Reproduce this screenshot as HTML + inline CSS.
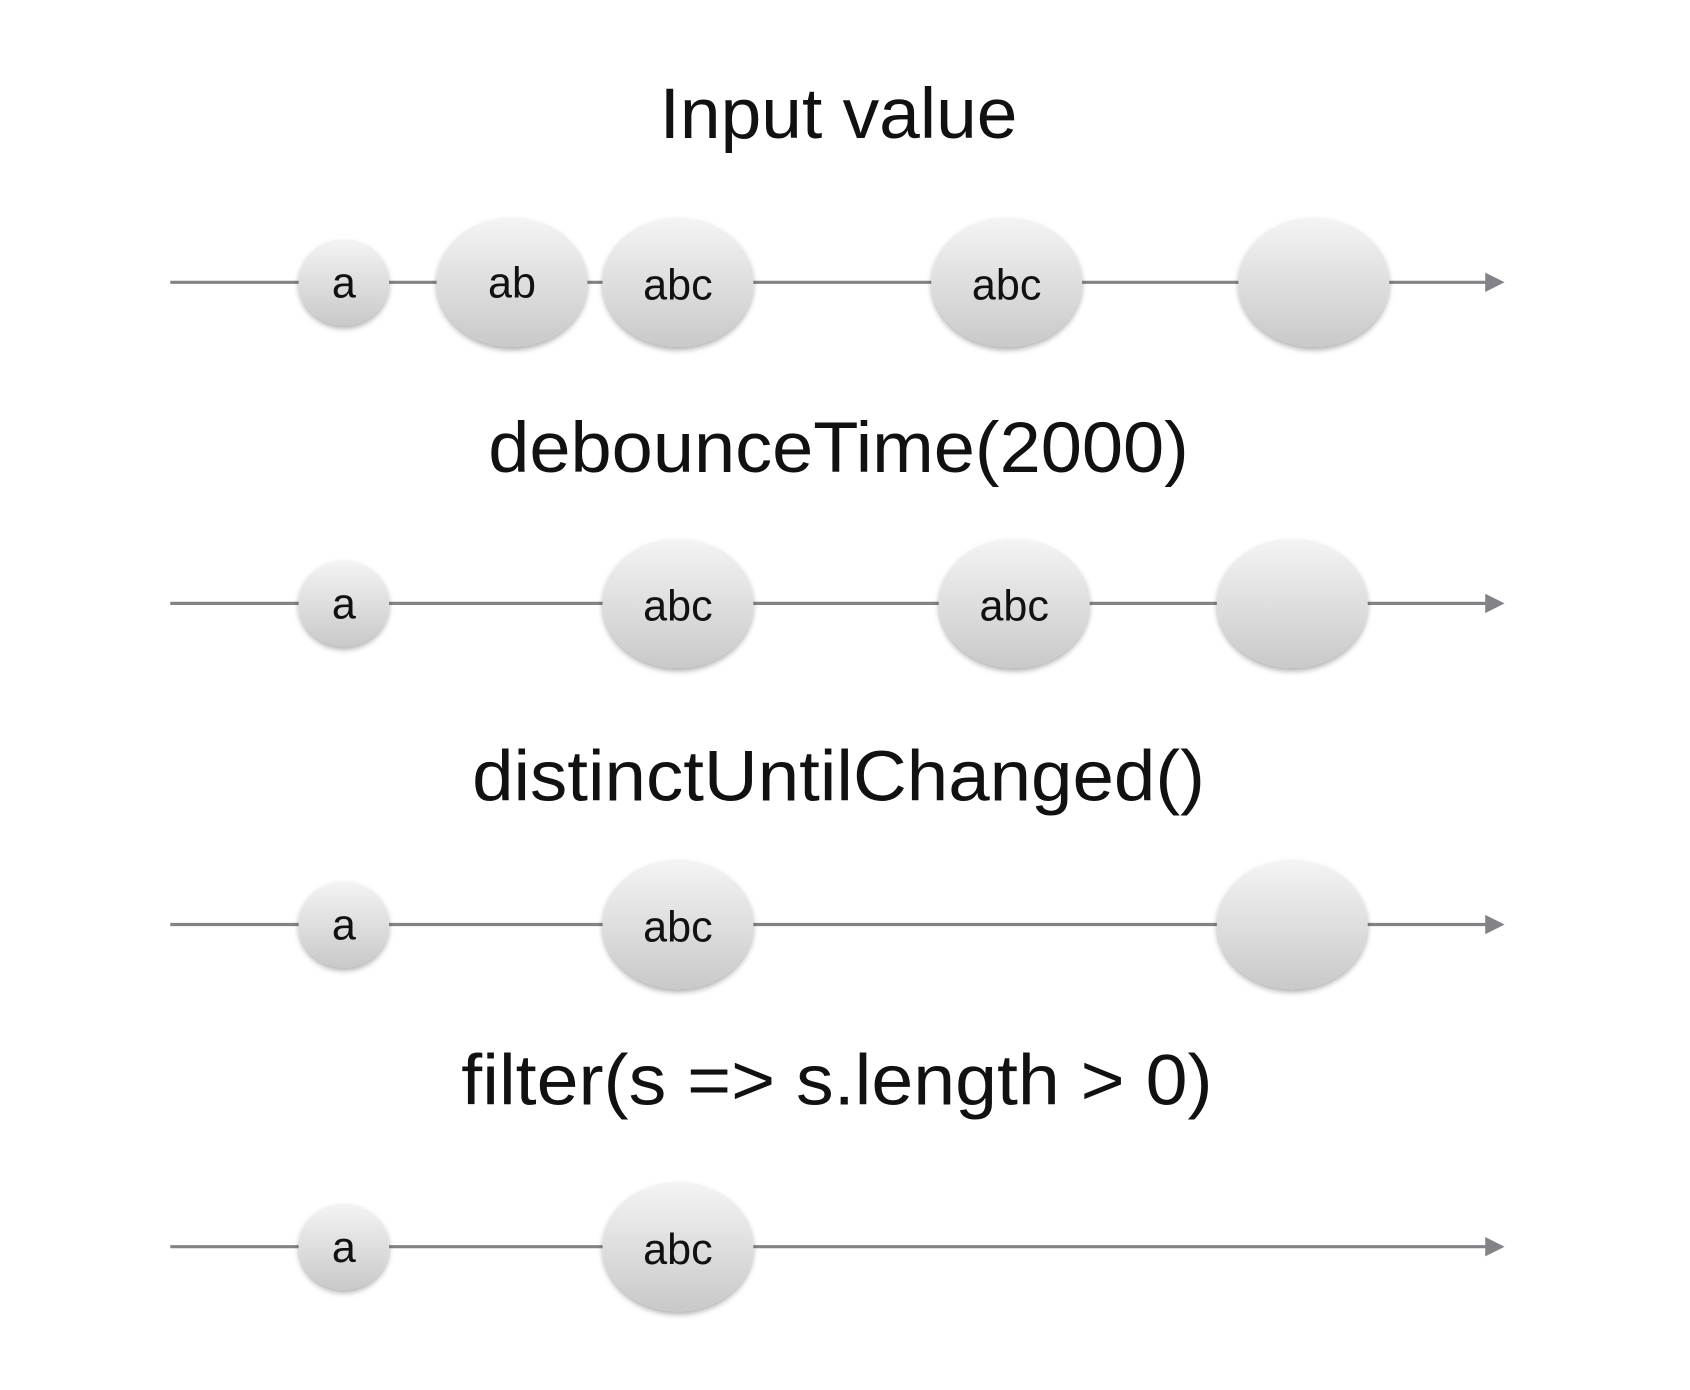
<!DOCTYPE html>
<html><head><meta charset="utf-8"><style>
html,body{margin:0;padding:0;background:#fff;}
svg{display:block;}
text{font-family:"Liberation Sans",sans-serif;fill:#111;}
</style></head><body>
<svg width="1690" height="1390" viewBox="0 0 1568 1290" preserveAspectRatio="none" xmlns="http://www.w3.org/2000/svg">
<defs>
<linearGradient id="g" x1="0" y1="0" x2="0" y2="1">
<stop offset="0" stop-color="#f4f4f4"/>
<stop offset="1" stop-color="#c9c9c9"/>
</linearGradient>
<filter id="s" x="-20%" y="-20%" width="140%" height="150%">
<feDropShadow dx="0" dy="3" stdDeviation="2.5" flood-color="#000" flood-opacity="0.3"/>
</filter>
</defs>
<g font-weight="normal" font-size="66" text-anchor="start" style="fill:#1a1a1a">
<text x="612" y="128" textLength="332" lengthAdjust="spacingAndGlyphs">Input value</text>
<text x="453" y="438" textLength="650" lengthAdjust="spacingAndGlyphs">debounceTime(2000)</text>
<text x="438" y="743" textLength="680" lengthAdjust="spacingAndGlyphs">distinctUntilChanged()</text>
<text x="428" y="1025" textLength="697" lengthAdjust="spacingAndGlyphs">filter(s =&gt; s.length &gt; 0)</text>
</g>
<g stroke="#828388" stroke-width="3">
<line x1="158" y1="262" x2="1382" y2="262"/>
<line x1="158" y1="560" x2="1382" y2="560"/>
<line x1="158" y1="858" x2="1382" y2="858"/>
<line x1="158" y1="1157" x2="1382" y2="1157"/>
</g>
<g fill="#828388">
<polygon points="1378,253 1396,262 1378,271"/>
<polygon points="1378,551 1396,560 1378,569"/>
<polygon points="1378,849 1396,858 1378,867"/>
<polygon points="1378,1148 1396,1157 1378,1166"/>
</g>
<g fill="url(#g)" filter="url(#s)">
<ellipse cx="319" cy="262" rx="42" ry="40"/>
<ellipse cx="475" cy="262" rx="70" ry="60"/>
<ellipse cx="629" cy="262" rx="70" ry="60"/>
<ellipse cx="934" cy="262" rx="70" ry="60"/>
<ellipse cx="1219" cy="262" rx="70" ry="60"/>
<ellipse cx="319" cy="560" rx="42" ry="40"/>
<ellipse cx="629" cy="560" rx="70" ry="60"/>
<ellipse cx="941" cy="560" rx="70" ry="60"/>
<ellipse cx="1199" cy="560" rx="70" ry="60"/>
<ellipse cx="319" cy="858" rx="42" ry="40"/>
<ellipse cx="629" cy="858" rx="70" ry="60"/>
<ellipse cx="1199" cy="858" rx="70" ry="60"/>
<ellipse cx="319" cy="1157" rx="42" ry="40"/>
<ellipse cx="629" cy="1157" rx="70" ry="60"/>
</g>
<g font-size="40" text-anchor="middle" style="fill:#1a1a1a">
<text x="319" y="276">a</text>
<text x="475" y="276">ab</text>
<text x="629" y="278">abc</text>
<text x="934" y="278">abc</text>
<text x="319" y="574">a</text>
<text x="629" y="576">abc</text>
<text x="941" y="576">abc</text>
<text x="319" y="872">a</text>
<text x="629" y="874">abc</text>
<text x="319" y="1171">a</text>
<text x="629" y="1173">abc</text>
</g>
</svg>
</body></html>
